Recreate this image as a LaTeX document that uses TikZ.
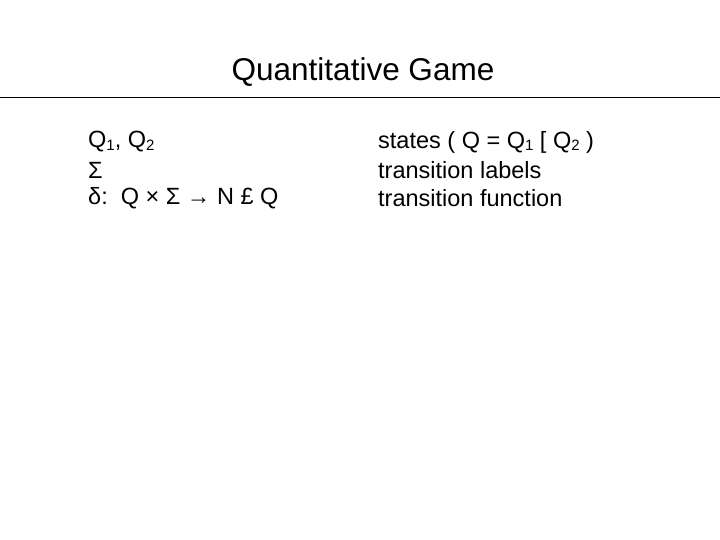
\documentclass[tikz,border=0pt]{standalone}
\usepackage{fontspec}
\setmainfont{Liberation Sans}
\newcommand{\sbs}[1]{\raisebox{-0.2ex}{\fontsize{15}{18}\selectfont #1}}
\begin{document}
\begin{tikzpicture}[x=1pt,y=-1pt,
  body/.style={anchor=west,inner sep=0pt,font=\fontsize{23.5}{28}\selectfont},
  ttl/.style={inner sep=0pt,font=\fontsize{31.5}{36}\selectfont}]
\useasboundingbox (0,0) rectangle (720,540);
\node[ttl] (title) at (363,72) {Quantitative Game};
\coordinate (l) at (0,97); \coordinate (r) at (720,97);
\draw[line width=0.8pt] (l) -- (r);
\node[body] (a1) at (88,142) {Q\sbs{1}, Q\sbs{2}};
\node[body] (a2) at (88,170) {Σ};
\node[body] (a3) at (88,198) {δ:\ \ Q × Σ → N £ Q};
\node[body] (b1) at (378,142) {states ( Q = Q\sbs{1} [ Q\sbs{2} )};
\node[body] (b2) at (378,170) {transition labels};
\node[body] (b3) at (378,198) {transition function};
\end{tikzpicture}
\end{document}
